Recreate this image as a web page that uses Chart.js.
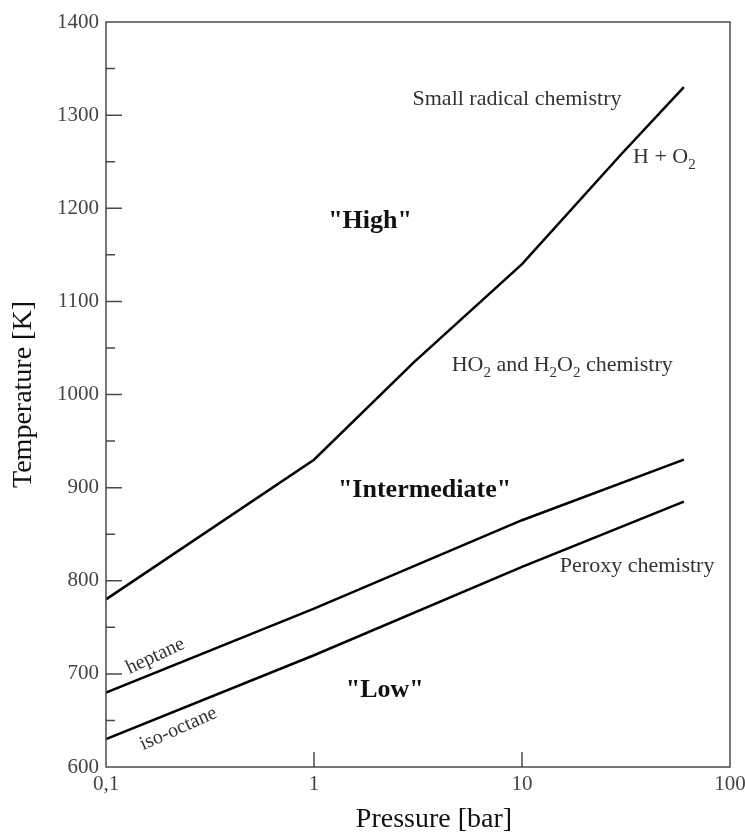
<!DOCTYPE html>
<html lang="en">
<head>
  <meta charset="UTF-8">
  <title>Ignition regimes</title>
  <script src="https://cdn.jsdelivr.net/npm/chart.js"></script>
  <style>
    body { margin: 0; background: #fff; }
  </style>
</head>
<body>
  <canvas id="myChart" width="745" height="836"></canvas>

  <script>
    // pressure [bar] and temperature [K] for each boundary line
    const highPressure = [0.1, 1, 3, 10, 30, 60];
    const highTemp = [780, 930, 1034, 1140, 1258, 1330];

    const lowPressure = [0.1, 1, 10, 60];
    const heptaneTemp = [680, 770, 865, 930];
    const isoOctaneTemp = [630, 720, 815, 885];

    // axis ticks
    const xTicks = [0.1, 1, 10, 100];
    const xTickLabels = ['0,1', '1', '10', '100'];
    const yMajorTicks = [700, 800, 900, 1000, 1100, 1200, 1300];
    const yMinorTicks = [650, 750, 850, 950, 1050, 1150, 1250, 1350];

    // region labels, placed in data units
    const regionLabels = [
      { text: 'Small radical chemistry', x: 9.46, y: 1317, align: 'center' },
      { text: 'HO|2| and H|2|O|2| chemistry', x: 4.59, y: 1031, align: 'left' },
      { text: 'Peroxy chemistry', x: 15.2, y: 816, align: 'left' },
      { text: 'H + O|2', x: 34.2, y: 1255, align: 'left' }
    ];
    const regimeLabels = [
      { text: '"High"', x: 1.86, y: 1186 },
      { text: '"Intermediate"', x: 3.4, y: 897 },
      { text: '"Low"', x: 2.19, y: 682 }
    ];
    const fuelLabels = [
      { text: 'heptane', x: 0.173, y: 719, angle: -25 },
      { text: 'iso-octane', x: 0.223, y: 641, angle: -24 }
    ];

    const serif = '"Liberation Serif", "Times New Roman", serif';

    const toPoints = (xs, ys) => xs.map((v, i) => ({ x: v, y: ys[i] }));

    // text with |sub| segments drawn as subscripts
    function drawSubText(ctx, str, x, y, size, align) {
      const parts = str.split('|');
      const subSize = Math.round(size * 0.68);
      let total = 0;
      parts.forEach((p, i) => {
        ctx.font = (i % 2 ? subSize : size) + 'px ' + serif;
        total += ctx.measureText(p).width;
      });
      let cx = align === 'center' ? x - total / 2 : x;
      ctx.textAlign = 'left';
      parts.forEach((p, i) => {
        const sub = i % 2 === 1;
        ctx.font = (sub ? subSize : size) + 'px ' + serif;
        ctx.fillText(p, cx, sub ? y + size * 0.35 : y);
        cx += ctx.measureText(p).width;
      });
    }

    const frame = {
      id: 'frame',
      afterDatasetsDraw(chart) {
        const { ctx, chartArea: a, scales: { x, y } } = chart;
        ctx.save();

        // box and inward ticks
        ctx.strokeStyle = '#4a4a4a';
        ctx.lineWidth = 1.5;
        ctx.strokeRect(a.left, a.top, a.right - a.left, a.bottom - a.top);
        ctx.beginPath();
        yMajorTicks.forEach(v => {
          const py = y.getPixelForValue(v);
          ctx.moveTo(a.left, py);
          ctx.lineTo(a.left + 16, py);
        });
        yMinorTicks.forEach(v => {
          const py = y.getPixelForValue(v);
          ctx.moveTo(a.left, py);
          ctx.lineTo(a.left + 9, py);
        });
        [1, 10].forEach(v => {
          const px = x.getPixelForValue(v);
          ctx.moveTo(px, a.bottom);
          ctx.lineTo(px, a.bottom - 15);
        });
        ctx.stroke();

        ctx.textBaseline = 'middle';

        // chemistry labels
        ctx.fillStyle = '#333';
        regionLabels.forEach(l => {
          drawSubText(ctx, l.text, x.getPixelForValue(l.x), y.getPixelForValue(l.y), 22, l.align);
        });

        // regime names
        ctx.fillStyle = '#111';
        ctx.textAlign = 'center';
        ctx.font = 'bold 26px ' + serif;
        regimeLabels.forEach(l => {
          ctx.fillText(l.text, x.getPixelForValue(l.x), y.getPixelForValue(l.y));
        });

        // fuel names along the lines
        ctx.fillStyle = '#333';
        ctx.font = '20px ' + serif;
        fuelLabels.forEach(l => {
          ctx.save();
          ctx.translate(x.getPixelForValue(l.x), y.getPixelForValue(l.y));
          ctx.rotate(l.angle * Math.PI / 180);
          ctx.fillText(l.text, 0, 0);
          ctx.restore();
        });

        // x axis title
        ctx.fillStyle = '#111';
        ctx.font = '28px ' + serif;
        ctx.fillText('Pressure [bar]', (a.left + a.right) / 2 + 16, 820);
        ctx.restore();
      }
    };

    const lineStyle = {
      borderColor: '#000',
      borderWidth: 2.5,
      pointRadius: 0,
      tension: 0,
      fill: false
    };

    const ctx = document.getElementById('myChart').getContext('2d');
    new Chart(ctx, {
      type: 'line',
      data: {
        datasets: [
          { label: 'H + O2', data: toPoints(highPressure, highTemp), ...lineStyle },
          { label: 'heptane', data: toPoints(lowPressure, heptaneTemp), ...lineStyle },
          { label: 'iso-octane', data: toPoints(lowPressure, isoOctaneTemp), ...lineStyle }
        ]
      },
      options: {
        responsive: false,
        animation: false,
        layout: { padding: { top: 22, right: 15, bottom: 0, left: 0 } },
        plugins: {
          legend: { display: false },
          tooltip: { enabled: false }
        },
        scales: {
          x: {
            type: 'logarithmic',
            min: 0.1,
            max: 100,
            grid: { display: false, drawTicks: false },
            border: { display: false },
            afterBuildTicks: scale => {
              scale.ticks = xTicks.map(v => ({ value: v }));
            },
            afterFit: scale => {
              scale.height = 69;
              scale.paddingRight = 0;
              scale.paddingLeft = 0;
            },
            ticks: {
              autoSkip: false,
              maxRotation: 0,
              padding: 5,
              color: '#444',
              font: { family: serif, size: 21 },
              callback: (value) => xTickLabels[xTicks.indexOf(value)]
            }
          },
          y: {
            min: 600,
            max: 1400,
            grid: { display: false, drawTicks: false },
            border: { display: false },
            afterFit: scale => { scale.width = 106; },
            ticks: {
              stepSize: 100,
              padding: 7,
              color: '#444',
              font: { family: serif, size: 21 },
              callback: (value) => String(value)
            },
            title: {
              display: true,
              text: 'Temperature [K]',
              color: '#111',
              font: { family: serif, size: 28 },
              padding: { top: 7, bottom: 0 }
            }
          }
        }
      },
      plugins: [frame]
    });
  </script>
</body>
</html>
